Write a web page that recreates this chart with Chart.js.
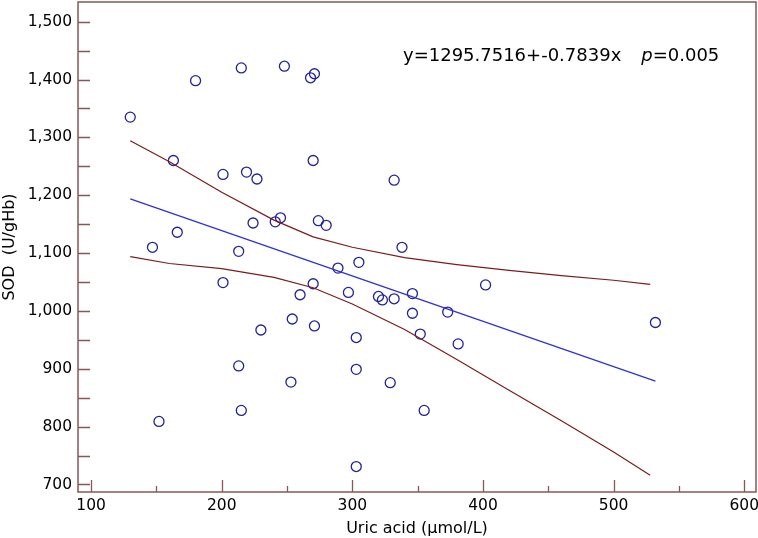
<!DOCTYPE html>
<html><head><meta charset="utf-8">
<script src="https://cdn.jsdelivr.net/npm/chart.js@4"></script>
<style>html,body{margin:0;padding:0;background:#fff}</style>
</head><body>
<canvas id="c" width="758" height="538"></canvas>
<script>
// Scatter data (Uric acid µmol/L vs SOD U/gHb)
const uricAcid = [130,180,215,248,268,271,163,201,219,227,245,241,224,166,147,213,270,332,274,280,338,201,260,254,230,213,253,215,152,305,289,270,297,320,323,332,346,402,346,373,271,303,352,381,303,329,355,303,532];
const sod      = [1335,1398,1420,1423,1403,1410,1260,1236,1240,1228,1161,1154,1152,1136,1110,1103,1260,1226,1156,1148,1110,1049,1028,986,967,905,877,828,809,1084,1074,1047,1032,1025,1019,1021,1030,1045,996,998,974,954,960,943,899,876,828,731,980];
// Regression line endpoints
const regX = [130, 532];
const regY = [1193.8, 878.7];
// Confidence band
const bandX = [130,160,200,240,270,300,340,380,420,460,500,528];
const bandUpper = [1294,1258,1205,1157,1128,1110,1092,1080,1070,1061,1053,1046];
const bandLower = [1094,1082,1073,1058,1040,1012,968,916,863,810,756,716];
// Axes
const xTicks = [100,200,300,400,500,600];
const xMinorTicks = [150,250,350,450,550];
const yTicks = [700,800,900,1000,1100,1200,1300,1400,1500];
const yMinorTicks = [750,850,950,1050,1150,1250,1350,1450];
const xRange = [90, 609];
const yRange = [687, 1534];
const equationText = 'y=1295.7516+-0.7839x';
const pText = 'p';
const pValText = '=0.005';

const FRAME = '#8a5656';
const FONT = '"DejaVu Sans", Verdana, sans-serif';

const pts = uricAcid.map((x,i)=>({x, y: sod[i]}));
const reg = regX.map((x,i)=>({x, y: regY[i]}));
const up = bandX.map((x,i)=>({x, y: bandUpper[i]}));
const lo = bandX.map((x,i)=>({x, y: bandLower[i]}));

function zeroPad(s) { s.paddingTop = 0; s.paddingBottom = 0; s.paddingLeft = 0; s.paddingRight = 0; }

const framePlugin = {
  id: 'frame',
  afterDraw(chart) {
    const {ctx, chartArea: a, scales: {x, y}} = chart;
    ctx.save();
    ctx.strokeStyle = FRAME;
    ctx.lineWidth = 1.5;
    ctx.strokeRect(a.left, a.top, a.right - a.left, a.bottom - a.top);
    ctx.lineWidth = 1.3;
    ctx.beginPath();
    xTicks.forEach(v => { const px = Math.round(x.getPixelForValue(v)) + 0.5; ctx.moveTo(px, a.bottom); ctx.lineTo(px, a.bottom - 12); });
    xMinorTicks.forEach(v => { const px = Math.round(x.getPixelForValue(v)) + 0.5; ctx.moveTo(px, a.bottom); ctx.lineTo(px, a.bottom - 6); });
    yTicks.concat(yMinorTicks).forEach(v => { const py = Math.round(y.getPixelForValue(v)) + 0.5; ctx.moveTo(a.left, py); ctx.lineTo(a.left + 12, py); });
    ctx.stroke();
    // equation annotation
    ctx.fillStyle = '#000';
    ctx.textBaseline = 'alphabetic';
    ctx.font = '18px ' + FONT;
    let tx = 403, ty = 61;
    ctx.fillText(equationText, tx, ty);
    tx += ctx.measureText(equationText).width + 20;
    ctx.font = 'italic 18px ' + FONT;
    ctx.fillText(pText, tx, ty);
    tx += ctx.measureText(pText).width;
    ctx.font = '18px ' + FONT;
    ctx.fillText(pValText, tx, ty);
    ctx.restore();
  }
};

new Chart(document.getElementById('c'), {
  type: 'scatter',
  data: {
    datasets: [
      { label: 'upper', data: up, showLine: true, borderColor: '#7a1c1c', borderWidth: 1.2, pointRadius: 0, fill: false, tension: 0 },
      { label: 'lower', data: lo, showLine: true, borderColor: '#7a1c1c', borderWidth: 1.2, pointRadius: 0, fill: false, tension: 0 },
      { label: 'regression', data: reg, showLine: true, borderColor: '#2f2fd6', borderWidth: 1.2, pointRadius: 0, fill: false },
      { label: 'data', data: pts, showLine: false, pointStyle: 'circle', pointRadius: 5, pointBorderWidth: 1.3, borderColor: '#22229a', backgroundColor: 'rgba(0,0,0,0)', pointHoverRadius: 5 }
    ]
  },
  options: {
    responsive: false,
    animation: false,
    devicePixelRatio: 1,
    layout: { autoPadding: false, padding: { top: 2, right: 2, left: 0, bottom: 0 } },
    plugins: { legend: { display: false }, tooltip: { enabled: false } },
    scales: {
      x: {
        type: 'linear', min: xRange[0], max: xRange[1],
        afterBuildTicks: s => { s.ticks = xTicks.map(v => ({value: v})); },
        afterFit: s => { s.height = 46; zeroPad(s); },
        grid: { display: false, drawTicks: false },
        border: { display: false },
        ticks: { color: '#000', font: { family: FONT, size: 15.5 }, padding: 5, maxRotation: 0, autoSkip: false },
        title: { display: true, text: 'Uric acid (\u00b5mol/L)', color: '#000', font: { family: FONT, size: 16 }, padding: { top: 0, bottom: 0 } }
      },
      y: {
        type: 'linear', min: yRange[0], max: yRange[1],
        afterBuildTicks: s => { s.ticks = yTicks.map(v => ({value: v})); },
        afterFit: s => { s.width = 78; zeroPad(s); },
        grid: { display: false, drawTicks: false },
        border: { display: false },
        ticks: { color: '#000', font: { family: FONT, size: 15.5 }, padding: 6, autoSkip: false, callback: v => Number(v).toLocaleString('en-US') },
        title: { display: true, text: 'SOD  (U/gHb)', color: '#000', font: { family: FONT, size: 16 }, padding: { top: 0, bottom: 0 } }
      }
    }
  },
  plugins: [framePlugin]
});
</script>
</body></html>
